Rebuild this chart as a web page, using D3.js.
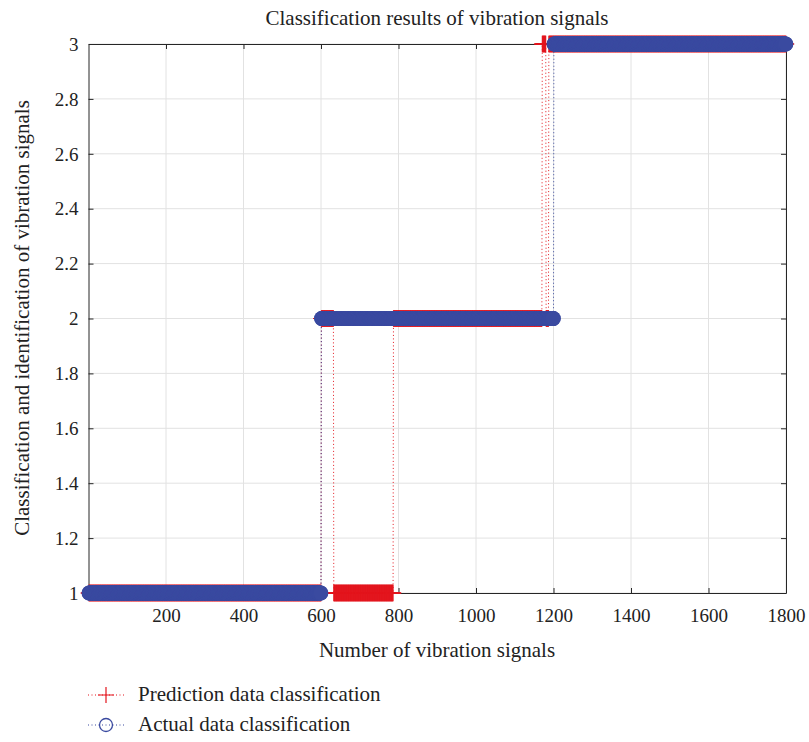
<!DOCTYPE html>
<html>
<head>
<meta charset="utf-8">
<script src="https://cdn.jsdelivr.net/npm/d3@7"></script>
<style>
  html, body { margin: 0; padding: 0; background: #fff; }
  svg { display: block; }
  text { font-family: "Liberation Serif", "DejaVu Serif", serif; fill: #222; }
</style>
</head>
<body>
<svg id="chart" width="809" height="742"></svg>
<script>
// Class label per sample, stored as runs: each run ends at the given sample index.
const sampleCount = 1800;
const predictedRunEnds = [600, 632, 786, 1170, 1180, 1187, 1800];
const predictedRunClasses = [1, 2, 1, 2, 3, 2, 3];
const actualRunEnds = [600, 1200, 1800];
const actualRunClasses = [1, 2, 3];

const xTicks = [200, 400, 600, 800, 1000, 1200, 1400, 1600, 1800];
const yTicks = [1, 1.2, 1.4, 1.6, 1.8, 2, 2.2, 2.4, 2.6, 2.8, 3];

const titleText = "Classification results of vibration signals";
const xLabelText = "Number of vibration signals";
const yLabelText = "Classification and identification of vibration signals";
const legendLabels = ["Prediction data classification", "Actual data classification"];

// Expand run-length labels into one value per sample (samples numbered from 1).
function expandRuns(ends, classes) {
  const out = [];
  let run = 0;
  for (let i = 1; i <= sampleCount; i++) {
    while (i > ends[run]) run++;
    out.push({ i: i, c: classes[run] });
  }
  return out;
}
const predicted = expandRuns(predictedRunEnds, predictedRunClasses);
const actual = expandRuns(actualRunEnds, actualRunClasses);

const RED = "#e3151d";
const BLUE = "#3a4aa0";
const AXIS = "#262626";
const LABEL_FONT = "21px";
const TICK_FONT = "19px";

const svg = d3.select("#chart");
const x = d3.scaleLinear().domain([0, 1800]).range([88.5, 786]);
const y = d3.scaleLinear().domain([1, 3]).range([593, 44]);

// grid
const grid = svg.append("g");
grid.selectAll("line.gx").data(xTicks).join("line")
  .attr("x1", d => x(d)).attr("x2", d => x(d))
  .attr("y1", y(1)).attr("y2", y(3))
  .attr("stroke", "#e2e2e2").attr("stroke-width", 1);
grid.selectAll("line.gy").data(yTicks).join("line")
  .attr("x1", x(0)).attr("x2", x(1800))
  .attr("y1", d => y(d)).attr("y2", d => y(d))
  .attr("stroke", "#e2e2e2").attr("stroke-width", 1);

// axes with inward ticks
const xAxis = svg.append("g").attr("transform", `translate(0,${y(1)})`)
  .call(d3.axisBottom(x).tickValues(xTicks).tickSizeInner(-5).tickSizeOuter(0).tickFormat(d3.format("d")));
const xAxisTop = svg.append("g").attr("transform", `translate(0,${y(3)})`)
  .call(d3.axisTop(x).tickValues(xTicks).tickSizeInner(-5).tickSizeOuter(0).tickFormat(""));
const yAxis = svg.append("g").attr("transform", `translate(${x(0)},0)`)
  .call(d3.axisLeft(y).tickValues(yTicks).tickSizeInner(-5).tickSizeOuter(0).tickFormat(d3.format("~g")));
const yAxisRight = svg.append("g").attr("transform", `translate(${x(1800)},0)`)
  .call(d3.axisRight(y).tickValues(yTicks).tickSizeInner(-5).tickSizeOuter(0).tickFormat(""));

[xAxis, xAxisTop, yAxis, yAxisRight].forEach(g => {
  g.select(".domain").attr("stroke", AXIS).attr("stroke-width", 1);
  g.selectAll(".tick line").attr("stroke", AXIS);
});
xAxis.selectAll(".tick text")
  .attr("y", 29).attr("dy", 0)
  .style("font-family", "Liberation Serif, serif").style("font-size", TICK_FONT).attr("fill", "#222");
yAxis.selectAll(".tick text")
  .attr("x", -10).attr("dy", "0.33em")
  .style("font-family", "Liberation Serif, serif").style("font-size", TICK_FONT).attr("fill", "#222");

// prediction: dotted connecting line with plus markers
const line = d3.line().x(d => x(d.i)).y(d => y(d.c));
svg.append("path").datum(predicted)
  .attr("d", line).attr("fill", "none")
  .attr("stroke", RED).attr("stroke-width", 1).attr("stroke-dasharray", "1,2.5");
const crossHalf = 8.3;
svg.append("path")
  .attr("d", predicted.map(d => {
    const px = x(d.i), py = y(d.c);
    return `M${px - crossHalf},${py}H${px + crossHalf}M${px},${py - crossHalf}V${py + crossHalf}`;
  }).join(""))
  .attr("fill", "none").attr("stroke", RED).attr("stroke-width", 1);

// actual: dotted connecting line with circle markers
svg.append("path").datum(actual)
  .attr("d", line).attr("fill", "none")
  .attr("stroke", BLUE).attr("stroke-width", 1).attr("stroke-dasharray", "1,2.5");
svg.append("g").selectAll("circle").data(actual).join("circle")
  .attr("cx", d => x(d.i)).attr("cy", d => y(d.c)).attr("r", 7.4)
  .attr("fill", BLUE);

// title and axis labels
svg.append("text").attr("x", 437).attr("y", 25).attr("text-anchor", "middle")
  .style("font-size", LABEL_FONT).text(titleText);
svg.append("text").attr("x", 437).attr("y", 657).attr("text-anchor", "middle")
  .style("font-size", LABEL_FONT).text(xLabelText);
svg.append("text").attr("transform", "translate(29,318) rotate(-90)").attr("text-anchor", "middle")
  .style("font-size", LABEL_FONT).text(yLabelText);

// legend
const legend = svg.append("g");
const legendRows = [
  { label: legendLabels[0], color: RED, marker: "plus", yPos: 695 },
  { label: legendLabels[1], color: BLUE, marker: "circle", yPos: 725 }
];
legendRows.forEach(r => {
  legend.append("line").attr("x1", 88).attr("x2", 125).attr("y1", r.yPos).attr("y2", r.yPos)
    .attr("stroke", r.color).attr("stroke-width", 1).attr("stroke-dasharray", "1,2.5");
  if (r.marker === "plus") {
    legend.append("path")
      .attr("d", `M${106 - 8},${r.yPos}H${106 + 8}M106,${r.yPos - 8}V${r.yPos + 8}`)
      .attr("stroke", r.color).attr("stroke-width", 1.2).attr("fill", "none");
  } else {
    legend.append("circle").attr("cx", 106).attr("cy", r.yPos).attr("r", 6.5)
      .attr("fill", "none").attr("stroke", r.color).attr("stroke-width", 1.3);
  }
  legend.append("text").attr("x", 138).attr("y", r.yPos + 6)
    .style("font-size", LABEL_FONT).text(r.label);
});
</script>
</body>
</html>
